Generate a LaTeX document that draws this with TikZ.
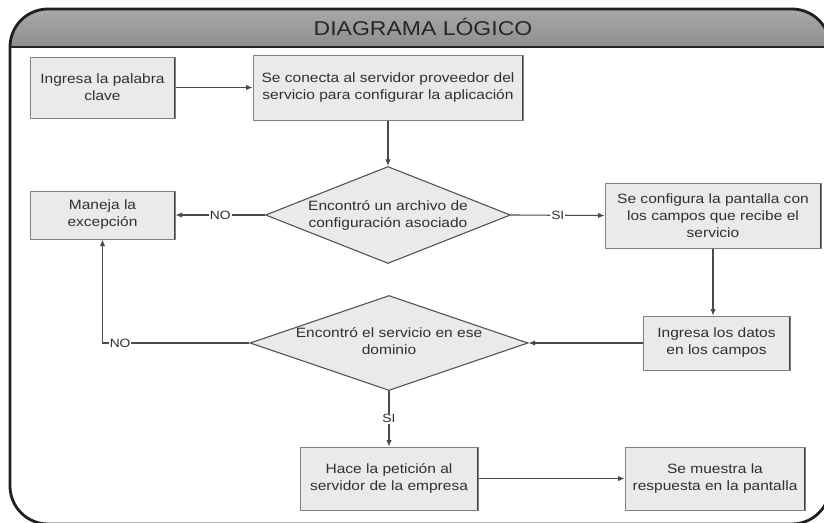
\documentclass[tikz,border=0pt]{standalone}
\usepackage{fontspec}
\setmainfont[FakeStretch=1.15]{Liberation Sans}
\usetikzlibrary{shapes.geometric,arrows.meta}
\definecolor{boxfill}{HTML}{EAEAEA}
\definecolor{boxline}{HTML}{808080}
\definecolor{boxside}{HTML}{404040}
\definecolor{conn}{HTML}{4A4A4A}
\definecolor{txt}{HTML}{303030}
\definecolor{hdtop}{HTML}{A8A8A8}
\definecolor{hdbot}{HTML}{8E8E8E}
\tikzset{
  procbox/.style={rectangle, fill=boxfill, draw=boxline, line width=1pt, inner sep=0pt,
    align=center, text=txt, font=\fontsize{13.5}{17}\selectfont,
    path picture={\draw[boxside, line width=2.4pt]
      (path picture bounding box.north west) -- (path picture bounding box.south west)
      (path picture bounding box.north east) -- (path picture bounding box.south east);}},
  decbox/.style={diamond, fill=boxfill, draw=boxside!90!white, line width=1.1pt, inner sep=0pt},
  dectext/.style={align=center, text=txt, font=\fontsize{13.5}{17}\selectfont, inner sep=0pt},
  conn/.style={draw=conn, line width=1.1pt, -{Latex[length=6.5pt,width=5.5pt]}},
  lbl/.style={fill=white, text=txt, font=\fontsize{12}{14}\selectfont, inner sep=1pt}
}
\begin{document}
\begin{tikzpicture}[x=1pt,y=-1pt]
\useasboundingbox (0,0) rectangle (824,522);
\begin{scope}
\clip (0,0) rectangle (824,522);
% frame
\fill[white] (10,9) [rounded corners=38pt] -- (10,524) -- (830,524) -- (830,9) -- cycle;
\begin{scope}
\clip[rounded corners=38pt] (10,9) rectangle (830,524);
\shade[top color=hdtop, bottom color=hdbot] (10,9) rectangle (830,47);
\draw[black!85, line width=2pt] (10,47) -- (830,47);
\end{scope}
\draw[black!88, line width=2.8pt, rounded corners=38pt] (10,9) rectangle (830,524);
\end{scope}
\node[font=\fontsize{20}{24}\selectfont, text=black!85, inner sep=0pt] (title) at (423,27) {DIAGRAMA LÓGICO};

% nodes
\node[procbox, minimum width=145pt, minimum height=61pt] (b1) at (102.5,87.5) {Ingresa la palabra\\clave};
\node[procbox, minimum width=270pt, minimum height=65pt] (b2) at (388,87.5) {Se conecta al servidor proveedor del\\servicio para configurar la aplicación};
\node[decbox, minimum width=245pt, minimum height=97pt] (d1) at (388,215) {};
\node[dectext] (d1t) at (388,215) {Encontró un archivo de\\configuración asociado};
\node[procbox, minimum width=145pt, minimum height=48pt] (b4) at (102.5,215) {Maneja la\\excepción};
\node[procbox, minimum width=216pt, minimum height=65pt] (b5) at (713,215.5) {Se configura la pantalla con\\los campos que recibe el\\servicio};
\node[procbox, minimum width=147pt, minimum height=54pt] (b6) at (716.5,343) {Ingresa los datos\\en los campos};
\node[decbox, minimum width=278pt, minimum height=95pt] (d2) at (389,343) {};
\node[dectext] (d2t) at (389,341) {Encontró el servicio en ese\\dominio};
\node[procbox, minimum width=178pt, minimum height=63pt] (b8) at (389,478.5) {Hace la petición al\\servidor de la empresa};
\node[procbox, minimum width=180pt, minimum height=63pt] (b9) at (715,478.5) {Se muestra la\\respuesta en la pantalla};

% connectors
\draw[conn] (b1.east) -- (b2.west);
\draw[conn] (b2.south) -- (d1.north);
\draw[conn] (d1.west) -- node[lbl]{NO} (b4.east);
\draw[conn] (d1.east) -- node[lbl]{SI} (b5.west);
\draw[conn] (b5.south) -- (b5.south |- b6.north);
\draw[conn] (b6.west) -- (d2.east);
\draw[conn] (d2.west) -| node[lbl, pos=0.44]{NO} (b4.south);
\draw[conn] (d2.south) -- node[lbl]{SI} (b8.north);
\draw[conn] (b8.east) -- (b9.west);
\end{tikzpicture}
\end{document}
